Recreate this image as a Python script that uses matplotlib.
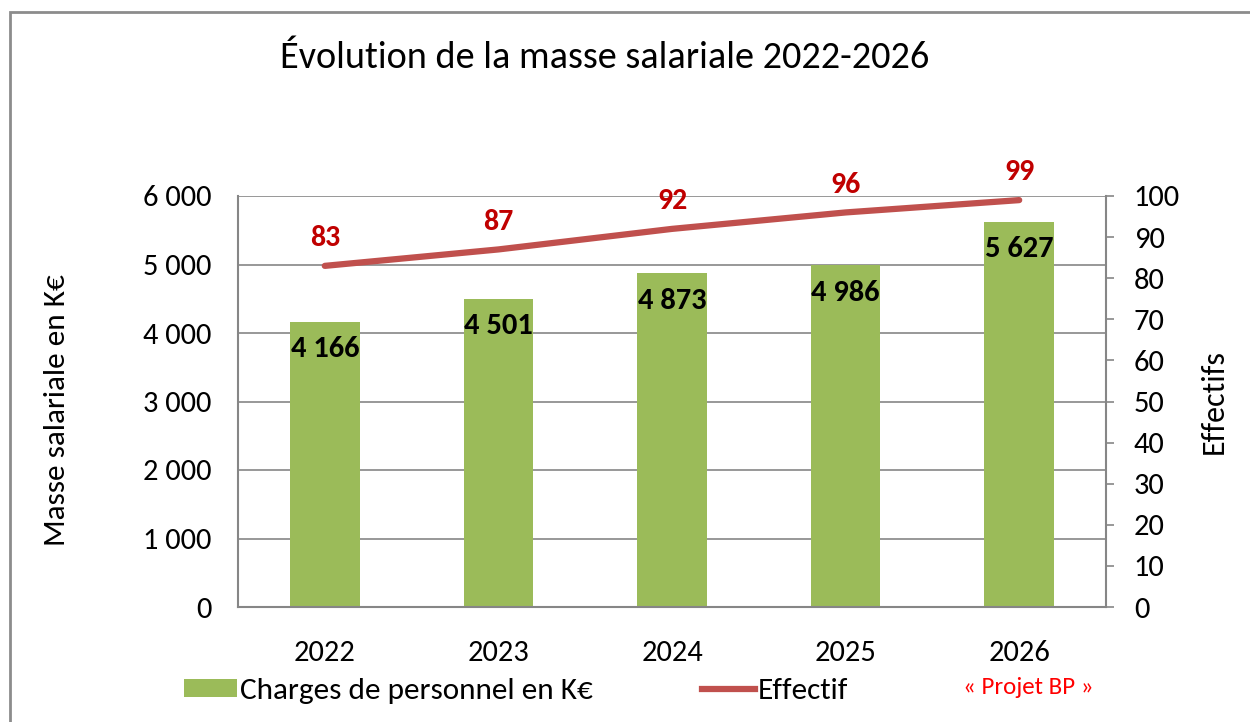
import matplotlib
matplotlib.use("Agg")
import matplotlib.pyplot as plt
from matplotlib.patches import Rectangle, Patch
from matplotlib.lines import Line2D
from matplotlib import font_manager

years = ["2022", "2023", "2024", "2025", "2026"]
charges = [4166, 4501, 4873, 4986, 5627]
effectif = [83, 87, 92, 96, 99]
left_ticks = [0, 1000, 2000, 3000, 4000, 5000, 6000]
left_tick_labels = ["0", "1 000", "2 000", "3 000", "4 000", "5 000", "6 000"]
right_ticks = [0, 10, 20, 30, 40, 50, 60, 70, 80, 90, 100]

avail = {f.name for f in font_manager.fontManager.ttflist}
fam = [f for f in ["Carlito", "Lato", "DejaVu Sans"] if f in avail]
plt.rcParams['font.family'] = fam

GREEN = "#9BBB59"
RED = "#C0504D"
GRID = "#868686"

fig = plt.figure(figsize=(12.5, 7.22), dpi=100)
fig.patches.append(Rectangle((10/1250, -0.1), 1.2, (722-12)/722 + 0.1, transform=fig.transFigure,
                             fill=False, edgecolor="#8C8C8C", linewidth=2))

ax = fig.add_axes([238/1250, (722-607)/722, (1106-238)/1250, (607-196)/722])
x = list(range(len(years)))
ax.bar(x, charges, width=0.40, color=GREEN, zorder=2)
ax.set_xlim(-0.5, 4.5)
ax.set_ylim(0, 6000)
ax.set_yticks(left_ticks)
ax.set_yticklabels(left_tick_labels)
ax.set_xticks(x)
ax.set_xticklabels(years)
ax.tick_params(axis='both', length=0, labelsize=22, pad=19)
ax.tick_params(axis='x', pad=24)
ax.grid(axis='y', color=GRID, linewidth=1.2, zorder=0)
for s in ["top", "right"]:
    ax.spines[s].set_visible(False)
for s in ["left", "bottom"]:
    ax.spines[s].set_color(GRID)
    ax.spines[s].set_linewidth(1.5)
ax.set_ylabel("Masse salariale en K€", fontsize=22.5)
ax.yaxis.set_label_coords(-0.194, 0.478)

for xi, v in zip(x, charges):
    lab = f"{v:,}".replace(",", " ")
    ax.annotate(lab, (xi, v), xytext=(0, -20), textcoords="offset points",
                ha="center", va="center", fontsize=22, fontweight="bold", color="black", zorder=5)

ax2 = ax.twinx()
ax2.plot(x, effectif, color=RED, linewidth=4.5, solid_capstyle="round", zorder=4)
ax2.set_ylim(0, 100)
ax2.set_yticks(right_ticks)
ax2.tick_params(axis='y', direction='out', length=6, width=1.2, color=GRID, labelsize=22, pad=14)
for s in ["top", "left", "bottom"]:
    ax2.spines[s].set_visible(False)
ax2.spines["right"].set_color(GRID)
ax2.spines["right"].set_linewidth(1.5)
ax2.set_ylabel("Effectifs", fontsize=23, rotation=90)
ax2.yaxis.set_label_coords(1.108, 0.499)
for xi, v in zip(x, effectif):
    ax2.annotate(str(v), (xi, v), xytext=(0, 20), textcoords="offset points",
                 ha="center", va="center", fontsize=21.5, fontweight="bold", color="#C00000")

fig.text(605/1250, 1 - 57/722, "Évolution de la masse salariale 2022-2026", ha="center", va="center", fontsize=27.5)

handles = [Patch(facecolor=GREEN, edgecolor="none"), Line2D([0], [0], color=RED, linewidth=4.5)]
leg = fig.legend(handles, ["Charges de personnel en K€", "Effectif"], loc="center left",
                 bbox_to_anchor=(171/1250, 1 - 691/722), ncol=2, frameon=False, fontsize=22.5,
                 handlelength=1.7, handleheight=0.55, handletextpad=0.1, columnspacing=3.5, borderaxespad=0)
fig.text(1028/1250, 1 - 688/722, "« Projet BP »", ha="center", va="center", fontsize=18, color="#FF0000")

fig.savefig("out.png", dpi=100)
